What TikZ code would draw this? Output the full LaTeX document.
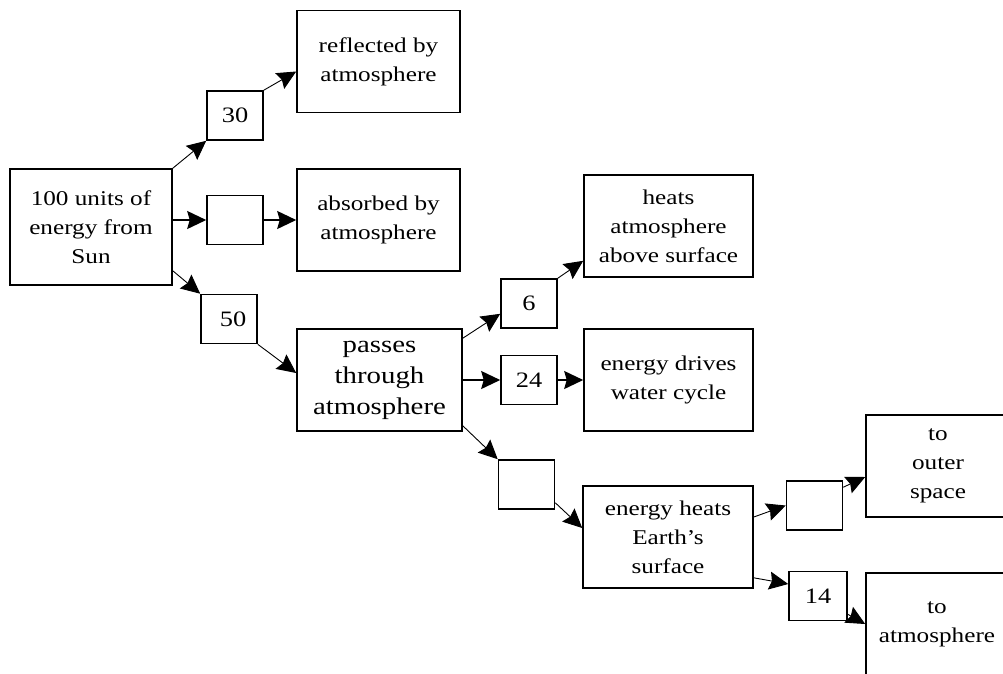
\documentclass[tikz,border=0pt]{standalone}
\usepackage{fontspec}
\setmainfont{Liberation Serif}[FakeStretch=1.2]
\usetikzlibrary{arrows.meta}

\begin{document}
\begin{tikzpicture}[x=1pt, y=-1pt]

\tikzset{stage/.style={shape=rectangle, draw=black, line width=1.6, align=center, inner sep=0, minimum width=165, minimum height=102, font=\fontsize{21}{29}\selectfont}}
\tikzset{amount/.style={stage, minimum width=56, minimum height=49, font=\fontsize{22}{26}\selectfont}}
\tikzset{flow/.style={-{Stealth[length=19pt, width=18pt, inset=2.5pt]}, line width=0.9}}
\tikzset{mainflow/.style={flow, line width=1.6}}
\clip (0,0) rectangle (1003,673);
\node[stage, minimum width=162, minimum height=116] (sun) at (91,227) {100 units of\\energy from\\Sun};
\node[amount] (n30) at (235,115.5) {30};
\node[stage, minimum width=163] (reflected) at (378.5,61.5) {reflected by\\atmosphere};
\node[amount] (blank1) at (235,220) {};
\node[stage, minimum width=163] (absorbed) at (378.5,220) {absorbed by\\atmosphere};
\node[amount] (n50) at (229,319) {\hspace{8pt}50};
\node[stage, font=\fontsize{24}{31}\selectfont] (passes) at (379.5,380) {passes\\through\\atmosphere};
\node[amount] (n6) at (529,303.5) {6};
\node[stage, minimum width=169] (heats) at (668.5,226) {heats\\atmosphere\\above surface};
\node[amount] (n24) at (529,380) {24};
\node[stage, minimum width=169] (water) at (668.5,380) {energy drives\\water cycle};
\node[amount] (blank2) at (526.5,484.5) {};
\node[stage, minimum width=170] (earth) at (668,537) {energy heats\\Earth's\\surface};
\node[amount] (blank3) at (814.5,505.5) {};
\node[stage, minimum width=144] (outer) at (938,466) {to\\outer\\space};
\node[amount, minimum width=58] (n14) at (818,596) {14};
\node[stage, minimum width=142] (toatm) at (937,624) {to\\atmosphere};
\draw[flow] (sun.north east) -- (n30.south west);
\draw[flow] (n30.north east) -- ([yshift=-10pt]reflected.west);
\draw[mainflow] (blank1.west -| sun.east) -- (blank1.west);
\draw[mainflow] (blank1.east) -- (blank1.east -| absorbed.west);
\draw[flow] ([yshift=15pt]sun.south east) -- (n50.north west);
\draw[flow] (n50.south east) -- ([yshift=7pt]passes.west);
\draw[flow] ([yshift=-10pt]passes.north east) -- ([yshift=15pt]n6.south west);
\draw[flow] (n6.north east) -- ([yshift=17pt]heats.south west);
\draw[mainflow] (passes.east) -- (n24.west);
\draw[mainflow] (n24.east) -- (n24.east -| water.west);
\draw[flow] ([yshift=6pt]passes.south east) -- (blank2.north west);
\draw[flow] ([yshift=7pt]blank2.south east) -- ([yshift=9pt]earth.west);
\draw[flow] ([yshift=20pt]earth.east) -- (blank3.west);
\draw[flow] ([yshift=-7pt]blank3.north east) -- ([yshift=-11pt]outer.west);
\draw[flow] ([yshift=11pt]earth.south east) -- ([yshift=12pt]n14.west);
\draw[flow] ([yshift=7pt]n14.south east) -- (toatm.west);

\end{tikzpicture}
\end{document}
